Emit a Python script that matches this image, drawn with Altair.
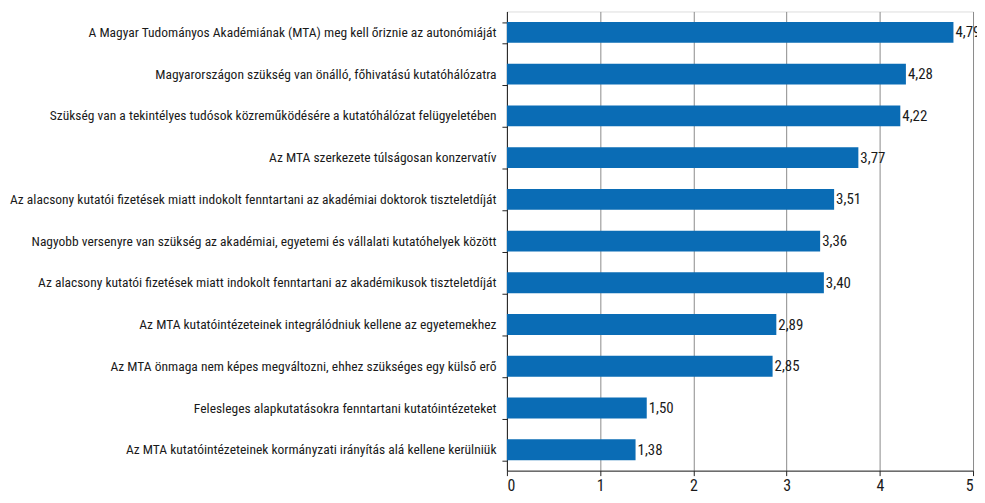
import altair as alt
import pandas as pd

statements = [
    "A Magyar Tudományos Akadémiának (MTA) meg kell őriznie az autonómiáját",
    "Magyarországon szükség van önálló, főhivatású kutatóhálózatra",
    "Szükség van a tekintélyes tudósok közreműködésére a kutatóhálózat felügyeletében",
    "Az MTA szerkezete túlságosan konzervatív",
    "Az alacsony kutatói fizetések miatt indokolt fenntartani az akadémiai doktorok tiszteletdíját",
    "Nagyobb versenyre van szükség az akadémiai, egyetemi és vállalati kutatóhelyek között",
    "Az alacsony kutatói fizetések miatt indokolt fenntartani az akadémikusok tiszteletdíját",
    "Az MTA kutatóintézeteinek integrálódniuk kellene az egyetemekhez",
    "Az MTA önmaga nem képes megváltozni, ehhez szükséges egy külső erő",
    "Felesleges alapkutatásokra fenntartani kutatóintézeteket",
    "Az MTA kutatóintézeteinek kormányzati irányítás alá kellene kerülniük",
]
scores = [4.79, 4.28, 4.22, 3.77, 3.51, 3.36, 3.40, 2.89, 2.85, 1.50, 1.38]

df = pd.DataFrame({"statement": statements, "score": scores})
df["label"] = [f"{v:.2f}".replace(".", ",") for v in scores]

FONT = "'Liberation Sans Narrow', 'Arial Narrow', 'Roboto Condensed', 'DejaVu Sans Condensed', sans-serif"
BAR = "#0a6cb5"

y_enc = alt.Y(
    "statement:N",
    sort=statements,
    title=None,
    scale=alt.Scale(paddingInner=0.5, paddingOuter=0.25),
    axis=alt.Axis(
        labelFont=FONT,
        labelFontSize=13.6,
        labelColor="#1a1a1a",
        labelLimit=600,
        labelPadding=6,
        tickBand="extent",
        tickSize=5,
        tickColor="#222222",
        domainColor="#222222",
        grid=False,
    ),
)
x_enc = alt.X(
    "score:Q",
    title=None,
    scale=alt.Scale(domain=[0, 5], nice=False),
    axis=alt.Axis(
        values=[0, 1, 2, 3, 4, 5],
        format="d",
        labelFont=FONT,
        labelFontSize=16,
        labelColor="#1a1a1a",
        tickSize=5,
        tickColor="#222222",
        domainColor="#222222",
        labelPadding=2,
        grid=True,
        gridColor="#8a8a8a",
        gridWidth=1,
    ),
)

bars = alt.Chart(df).mark_bar(color=BAR).encode(y=y_enc, x=x_enc)
labels = alt.Chart(df).mark_text(
    align="left", baseline="middle", dx=2, font=FONT, fontSize=15, color="#1a1a1a"
).encode(y=alt.Y("statement:N", sort=statements), x="score:Q", text="label:N")

chart = (
    alt.layer(bars, labels)
    .properties(
        width=469,
        height=462,
        autosize=alt.AutoSizeParams(type="none"),
        padding={"left": 502, "top": 2, "right": 4, "bottom": 23},
    )
    .configure_view(stroke="#8a8a8a", strokeWidth=1)
    .configure(background="white")
)

chart.save("out.html", embed_options={"renderer": "svg", "actions": False})
